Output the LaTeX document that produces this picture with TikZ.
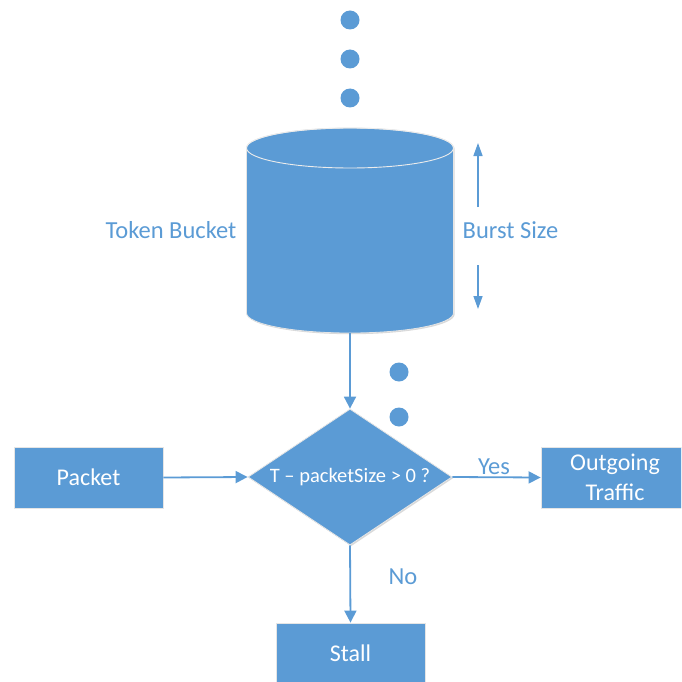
\documentclass[tikz,border=0pt]{standalone}
\usepackage{fontspec}
\setmainfont{Carlito}
\usetikzlibrary{shapes.geometric,arrows.meta,shadows}
\definecolor{ob}{HTML}{5B9BD5}
\begin{document}
\begin{tikzpicture}[x=1pt,y=-1pt,
  shp/.style={fill=ob, draw=black!10, line width=0.8pt,
    drop shadow={opacity=0.25, shadow xshift=1.2pt, shadow yshift=-1.2pt, fill=black!60}},
  box/.style={shp, rectangle, minimum width=149pt, minimum height=61pt, inner sep=0pt,
    text=white, font=\fontsize{24}{30}\selectfont, align=center},
  dec/.style={shp, diamond, aspect=1.5, minimum width=204pt, minimum height=136pt, inner sep=0pt,
    text=white, font=\fontsize{20.5}{24}\selectfont},
  lbl/.style={text=ob, font=\fontsize{24.5}{30}\selectfont, inner sep=0pt},
  conn/.style={draw=ob, line width=1.8pt, -{Triangle[length=12pt,width=12pt]}},
  burst/.style={draw=ob, line width=1.4pt, -{Triangle[length=13pt,width=9pt]}},
  dot/.style={fill=ob}
]
\clip (0,0) rectangle (681,682);
% falling tokens
\fill[dot] (350,20) circle (9.5pt);
\fill[dot] (350,59) circle (9.5pt);
\fill[dot] (350,98) circle (9.5pt);
% cylinder
\path[fill=ob, draw=black!10, line width=0.8pt,
  drop shadow={opacity=0.25, shadow xshift=1.2pt, shadow yshift=-1.2pt, fill=black!60}]
  (246.5,148) -- (246.5,313)
  arc[start angle=180, end angle=360, x radius=103.5pt, y radius=20pt]
  -- (453.5,148)
  arc[start angle=0, end angle=180, x radius=103.5pt, y radius=20pt] -- cycle;
\draw[white!85!gray, line width=0.9pt] (350,148) ellipse [x radius=103.5pt, y radius=20pt];
\coordinate (cylbot) at (350,333);
\node[lbl] (tb) at (171,230) {Token Bucket};
\node[lbl] (bs) at (510.5,230) {Burst Size};
\coordinate (bup0) at (478,207);
\coordinate (bup1) at (478,143);
\coordinate (bdn0) at (478,265);
\coordinate (bdn1) at (478,309);
\draw[burst] (bup0) -- (bup1);
\draw[burst] (bdn0) -- (bdn1);
% tokens near decision
\fill[dot] (399,372) circle (9.5pt);
\fill[dot] (399,417) circle (9.5pt);
% decision and boxes
\node[dec] (dia) at (350,477) {T -- packetSize > 0 ?};
\node[box] (pk) at (88.5,477.5) {Packet};
\node[box, minimum width=148pt] (out) at (615,477.5) {Outgoing\\Traffic};
\node[box, minimum height=60pt] (stall) at (350.5,653) {Stall};
\draw[conn] (cylbot) -- (dia.north);
\draw[conn] (pk.east) -- (dia.west);
\draw[conn] (dia.east) -- (out.west);
\draw[conn] (dia.south) -- (stall.north);
\node[lbl] (yes) at (494,467) {Yes};
\node[lbl] (no) at (403,577) {No};
\end{tikzpicture}
\end{document}
